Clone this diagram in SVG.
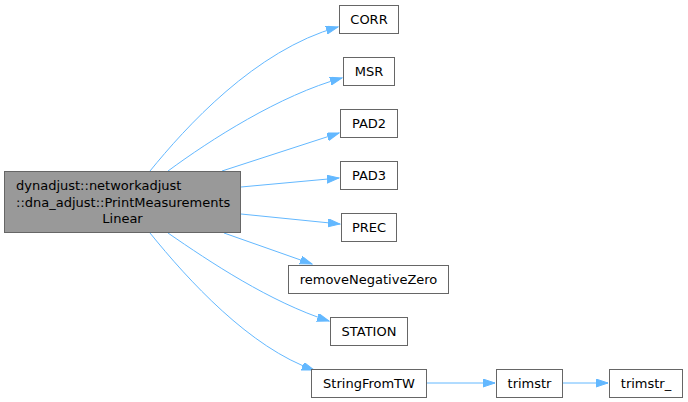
<svg xmlns="http://www.w3.org/2000/svg" width="688" height="402" viewBox="0 0 688 402">
<style>
.n rect{fill:#fff;stroke:#666;stroke-width:1}
.m rect{fill:#999;stroke:#666;stroke-width:1}
text{font-family:"DejaVu Sans",sans-serif;font-size:13px;fill:#000}
.c{text-anchor:middle}
.e path{fill:none;stroke:#63b8ff;stroke-width:1}
</style>
<defs>
<marker id="a" markerUnits="userSpaceOnUse" markerWidth="13" markerHeight="9" refX="12" refY="4" orient="auto">
<path d="M0,0 L12,4 L0,8 z" fill="#63b8ff" stroke="#63b8ff"/>
</marker>
</defs>
<rect width="688" height="402" fill="#fff"/>
<g id="edges" class="e">
<path d="M150,171 C185,128 255,50 338,27" marker-end="url(#a)"/>
<path d="M168,171 C210,140 280,95 342,78" marker-end="url(#a)"/>
<path d="M222,171 L339,133" marker-end="url(#a)"/>
<path d="M241,187 L339,178" marker-end="url(#a)"/>
<path d="M241,214 L340,224" marker-end="url(#a)"/>
<path d="M224,233 L312,264" marker-end="url(#a)"/>
<path d="M168,233 C210,262 270,302 329,321" marker-end="url(#a)"/>
<path d="M150,233 C188,280 250,348 314,370" marker-end="url(#a)"/>
<path d="M426,383 L495,383" marker-end="url(#a)"/>
<path d="M562,383 L608,383" marker-end="url(#a)"/>
</g>
<g id="main" class="m">
<rect x="4.5" y="171.5" width="236" height="61"/>
<text x="16" y="190">dynadjust::networkadjust</text>
<text x="16" y="206.5">::dna_adjust::PrintMeasurements</text>
<text x="122.5" y="223" class="c">Linear</text>
</g>
<g id="CORR" class="n"><rect x="339.5" y="5.5" width="59" height="28"/><text x="369" y="24" class="c">CORR</text></g>
<g id="MSR" class="n"><rect x="343.5" y="57.5" width="51" height="28"/><text x="369" y="76" class="c">MSR</text></g>
<g id="PAD2" class="n"><rect x="340.5" y="109.5" width="57" height="28"/><text x="369" y="128" class="c">PAD2</text></g>
<g id="PAD3" class="n"><rect x="340.5" y="161.5" width="57" height="28"/><text x="369" y="180" class="c">PAD3</text></g>
<g id="PREC" class="n"><rect x="341.5" y="213.5" width="55" height="28"/><text x="369" y="232" class="c">PREC</text></g>
<g id="removeNegativeZero" class="n"><rect x="288.5" y="265.5" width="160" height="28"/><text x="368.5" y="284" class="c">removeNegativeZero</text></g>
<g id="STATION" class="n"><rect x="330.5" y="317.5" width="77" height="28"/><text x="369" y="336" class="c">STATION</text></g>
<g id="StringFromTW" class="n"><rect x="311.5" y="369.5" width="115" height="28"/><text x="369" y="388" class="c">StringFromTW</text></g>
<g id="trimstr" class="n"><rect x="496.5" y="369.5" width="66" height="28"/><text x="529.5" y="388" class="c">trimstr</text></g>
<g id="trimstr_" class="n"><rect x="609.5" y="369.5" width="73" height="28"/><text x="646" y="388" class="c">trimstr_</text></g>
</svg>
